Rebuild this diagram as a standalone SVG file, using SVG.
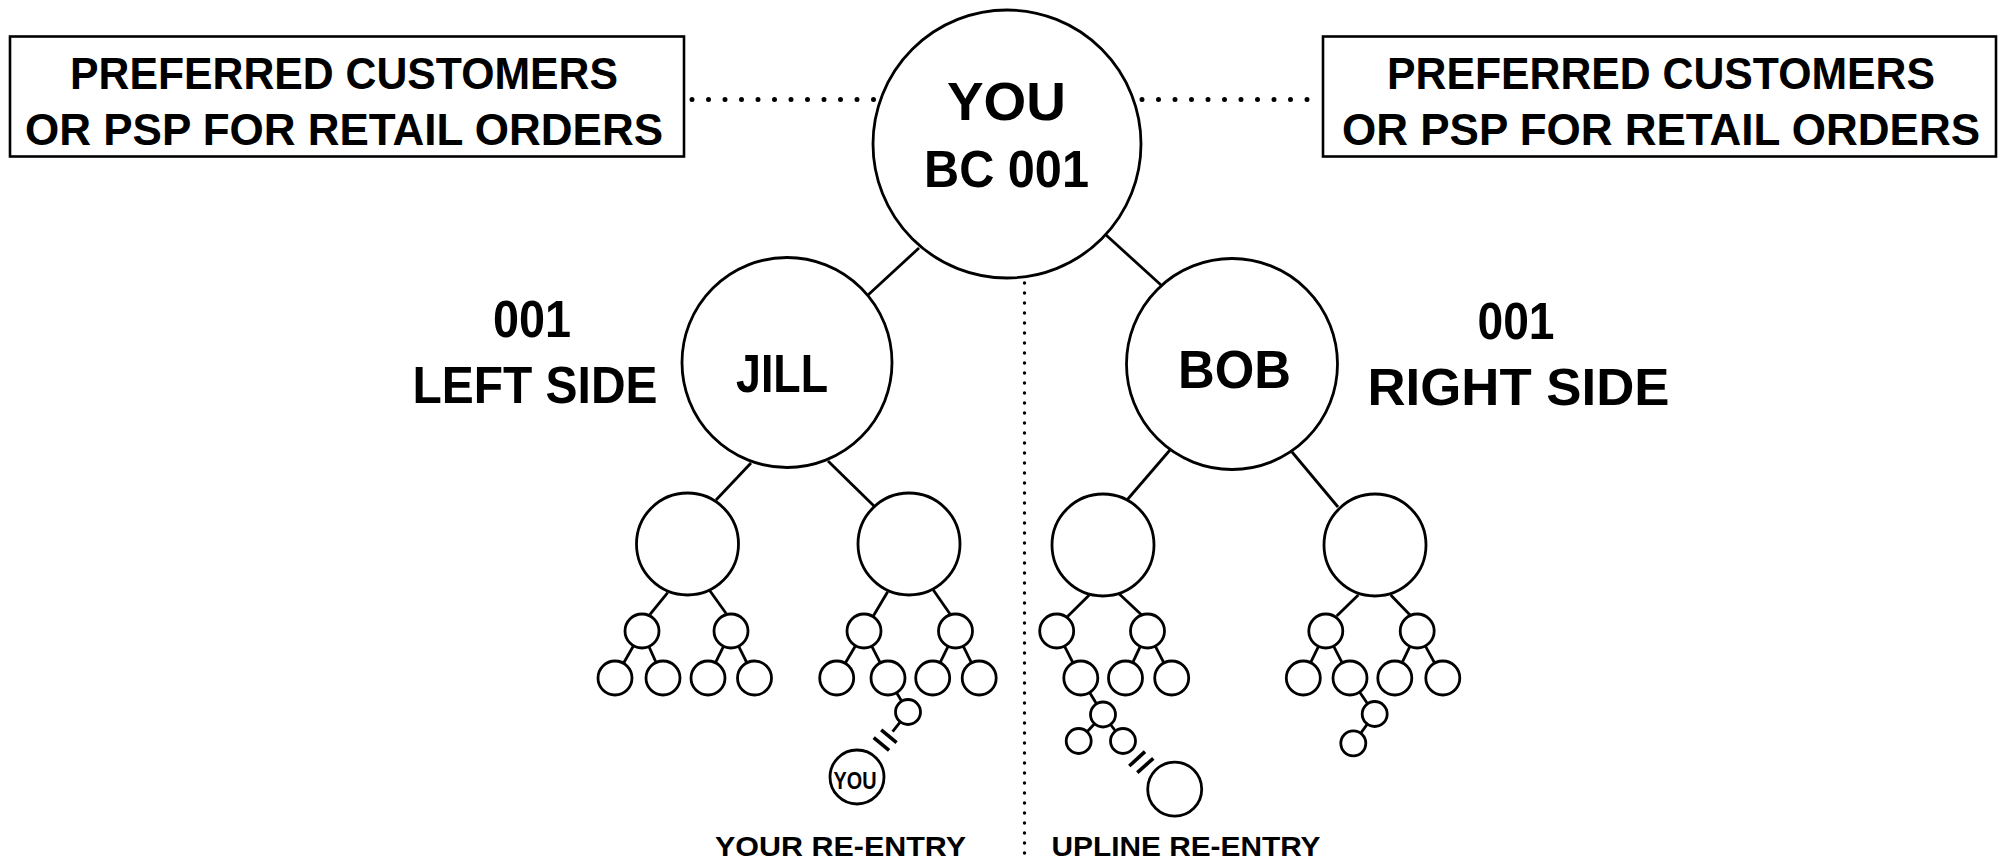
<svg xmlns="http://www.w3.org/2000/svg" width="2003" height="861" viewBox="0 0 2003 861">
<style>
.n{fill:#fff;stroke:#000;stroke-width:2.8}
.box{fill:#fff;stroke:#000;stroke-width:2.6}
.c line{stroke:#000;stroke-width:2.8;stroke-linecap:butt}
.c line.sl{stroke-width:3.6}
.c line.dh{stroke-width:5;stroke-linecap:round;stroke-dasharray:0 16.5}
.c line.dv{stroke-width:3.4;stroke-linecap:round;stroke-dasharray:0 10}
text{font-family:"Liberation Sans",Arial,sans-serif;font-weight:bold;fill:#000;text-anchor:middle}
.bt{font-size:45px}
.big{font-size:53px}
.side{font-size:52px}
.lab{font-size:28.5px}
.sm{font-size:24px}
</style>
<rect width="2003" height="861" fill="#fff"/>
<g id="connectors" class="c">
<line class="dh" x1="692" y1="99.5" x2="875" y2="99.5"/>
<line class="dh" x1="1142" y1="99.5" x2="1316" y2="99.5"/>
<line class="dv" x1="1024.5" y1="283" x2="1024.5" y2="858"/>
<line x1="919" y1="248" x2="868" y2="295"/>
<line x1="1106" y1="235" x2="1161" y2="285"/>
<line x1="751" y1="463" x2="716" y2="500"/>
<line x1="828" y1="461" x2="874" y2="506"/>
<line x1="1170" y1="450" x2="1127" y2="500"/>
<line x1="1292" y1="452" x2="1338" y2="507"/>
<line x1="667.7" y1="592.7" x2="650" y2="614.3"/>
<line x1="709.3" y1="590" x2="726" y2="613.3"/>
<line x1="887.7" y1="591.7" x2="873.3" y2="616"/>
<line x1="933.3" y1="590" x2="950.7" y2="615"/>
<line x1="1089.3" y1="595" x2="1067.3" y2="616.7"/>
<line x1="1119.3" y1="594" x2="1141.7" y2="615"/>
<line x1="1358.3" y1="595" x2="1336.7" y2="616"/>
<line x1="1390.7" y1="595" x2="1411" y2="616"/>
<line x1="633.5" y1="645.7" x2="623.5" y2="663.3"/>
<line x1="648.9" y1="646.5" x2="656.1" y2="662.5"/>
<line x1="723.5" y1="646.3" x2="715.5" y2="662.7"/>
<line x1="738.6" y1="646.2" x2="746.9" y2="662.8"/>
<line x1="855.5" y1="645.7" x2="845.2" y2="663.3"/>
<line x1="871.7" y1="646.1" x2="880.3" y2="662.9"/>
<line x1="948.1" y1="646.3" x2="940.1" y2="662.7"/>
<line x1="963.2" y1="646.2" x2="971.5" y2="662.8"/>
<line x1="1064.5" y1="646.1" x2="1073" y2="662.9"/>
<line x1="1140.3" y1="646.4" x2="1132.7" y2="662.6"/>
<line x1="1155.3" y1="646.1" x2="1163.9" y2="662.9"/>
<line x1="1318.5" y1="646.3" x2="1310.6" y2="662.7"/>
<line x1="1333.6" y1="646.1" x2="1342.2" y2="662.9"/>
<line x1="1409.9" y1="646.4" x2="1402.1" y2="662.6"/>
<line x1="1425.3" y1="645.9" x2="1434.7" y2="663.1"/>
<line x1="896.6" y1="692.7" x2="901.7" y2="701.2"/>
<line x1="1089.6" y1="692.5" x2="1096.5" y2="703.8"/>
<line x1="1359.6" y1="692" x2="1367.6" y2="703.7"/>
<line x1="1094.6" y1="723.7" x2="1087.1" y2="731.8"/>
<line x1="1110.5" y1="724.5" x2="1115.5" y2="731"/>
<line x1="1367.3" y1="724.1" x2="1360.7" y2="733.2"/>
<line x1="900.3" y1="721.8" x2="892.6" y2="731.6"/>
<line class="sl" x1="881.2" y1="729.8" x2="896.6" y2="742.6"/>
<line class="sl" x1="873.7" y1="737.6" x2="889.1" y2="750.4"/>
<line class="sl" x1="1129.3" y1="766" x2="1145" y2="751.7"/>
<line class="sl" x1="1137.3" y1="772.7" x2="1153.3" y2="758.3"/>
</g>
<g id="box-left"><rect class="box" x="10" y="36.5" width="674" height="120"/>
<text class="bt" x="344" y="88.5" textLength="548" lengthAdjust="spacingAndGlyphs">PREFERRED CUSTOMERS</text>
<text class="bt" x="344" y="145" textLength="638" lengthAdjust="spacingAndGlyphs">OR PSP FOR RETAIL ORDERS</text></g>
<g id="box-right"><rect class="box" x="1323" y="36.5" width="673" height="120"/>
<text class="bt" x="1661" y="88.5" textLength="548" lengthAdjust="spacingAndGlyphs">PREFERRED CUSTOMERS</text>
<text class="bt" x="1661" y="145" textLength="638" lengthAdjust="spacingAndGlyphs">OR PSP FOR RETAIL ORDERS</text></g>
<g id="you"><circle class="n" cx="1007" cy="144" r="134"/>
<text class="big" x="1006.5" y="120" textLength="119" lengthAdjust="spacingAndGlyphs">YOU</text>
<text class="side" x="1006.5" y="187" textLength="165" lengthAdjust="spacingAndGlyphs">BC 001</text></g>
<g id="jill"><circle class="n" cx="787" cy="362.5" r="105"/>
<text x="782" y="392" style="font-size:54px" textLength="92" lengthAdjust="spacingAndGlyphs">JILL</text></g>
<g id="bob"><circle class="n" cx="1232" cy="364" r="105.5"/>
<text class="big" x="1234.5" y="388" textLength="113" lengthAdjust="spacingAndGlyphs">BOB</text></g>
<g id="left-side-label"><text class="side" x="532" y="337" textLength="78" lengthAdjust="spacingAndGlyphs">001</text>
<text class="side" x="535" y="403" textLength="245" lengthAdjust="spacingAndGlyphs">LEFT SIDE</text></g>
<g id="right-side-label"><text class="side" x="1516" y="339" textLength="77" lengthAdjust="spacingAndGlyphs">001</text>
<text class="side" x="1518.5" y="405" textLength="302" lengthAdjust="spacingAndGlyphs">RIGHT SIDE</text></g>
<g id="level2">
<circle id="jl" class="n" cx="687.5" cy="544" r="51"/>
<circle id="jr" class="n" cx="909" cy="544" r="51"/>
<circle id="bl" class="n" cx="1103" cy="545" r="51"/>
<circle id="br" class="n" cx="1375" cy="545" r="51"/>
</g>
<g id="level3">
<circle class="n" cx="642" cy="631" r="17"/>
<circle class="n" cx="731" cy="631" r="17"/>
<circle class="n" cx="864" cy="631" r="17"/>
<circle class="n" cx="955.5" cy="631" r="17"/>
<circle class="n" cx="1056.7" cy="631" r="17"/>
<circle class="n" cx="1147.5" cy="631" r="17"/>
<circle class="n" cx="1325.8" cy="631" r="17"/>
<circle class="n" cx="1417.2" cy="631" r="17"/>
</g>
<g id="level4">
<circle class="n" cx="615" cy="678" r="17"/>
<circle class="n" cx="663" cy="678" r="17"/>
<circle class="n" cx="708" cy="678" r="17"/>
<circle class="n" cx="754.5" cy="678" r="17"/>
<circle class="n" cx="836.7" cy="678" r="17"/>
<circle class="n" cx="888" cy="678" r="17"/>
<circle class="n" cx="932.7" cy="678" r="17"/>
<circle class="n" cx="979.2" cy="678" r="17"/>
<circle class="n" cx="1080.8" cy="678" r="17"/>
<circle class="n" cx="1125.5" cy="678" r="17"/>
<circle class="n" cx="1171.7" cy="678" r="17"/>
<circle class="n" cx="1303.3" cy="678" r="17"/>
<circle class="n" cx="1350" cy="678" r="17"/>
<circle class="n" cx="1394.8" cy="678" r="17"/>
<circle class="n" cx="1442.8" cy="678" r="17"/>
</g>
<g id="level5">
<circle class="n" cx="908" cy="712" r="12.5"/>
<circle class="n" cx="1103" cy="714.5" r="12.5"/>
<circle class="n" cx="1374.7" cy="714" r="12.5"/>
<circle class="n" cx="1078.7" cy="741" r="12.5"/>
<circle class="n" cx="1123" cy="741" r="12.5"/>
<circle class="n" cx="1353.3" cy="743.3" r="12.5"/>
</g>
<g id="your-reentry"><circle class="n" cx="857" cy="777" r="27"/>
<text class="sm" x="855" y="788.5" textLength="43" lengthAdjust="spacingAndGlyphs">YOU</text></g>
<g id="upline-reentry"><circle class="n" cx="1174.7" cy="789.2" r="27"/></g>
<g id="labels">
<text class="lab" x="840.5" y="855.5" textLength="251" lengthAdjust="spacingAndGlyphs">YOUR RE-ENTRY</text>
<text class="lab" x="1186" y="855.5" textLength="269" lengthAdjust="spacingAndGlyphs">UPLINE RE-ENTRY</text>
</g>
</svg>
